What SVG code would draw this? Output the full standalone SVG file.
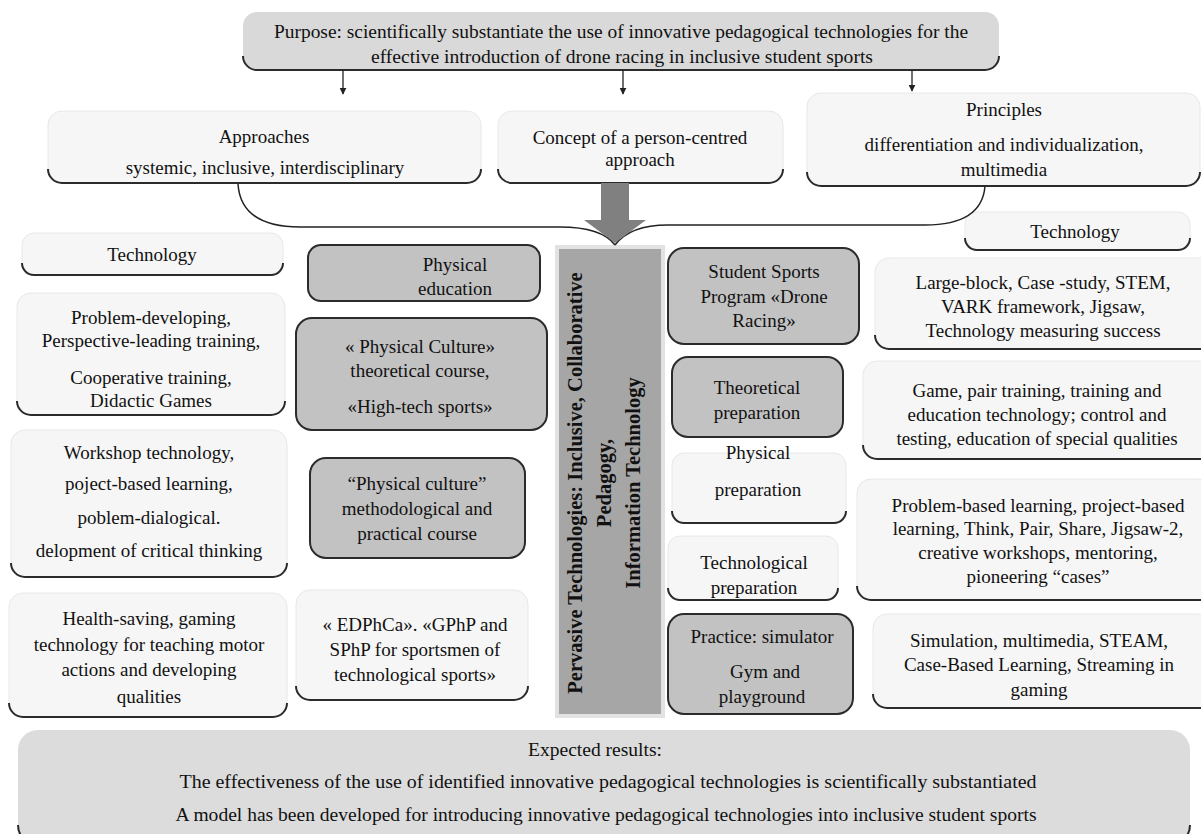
<svg xmlns="http://www.w3.org/2000/svg" width="1201" height="834" viewBox="0 0 1201 834">
<defs>
<style>
.t{font-family:"Liberation Serif","Times New Roman",serif;font-size:19px;fill:#111;text-anchor:middle}
.b{font-weight:bold;font-size:20.5px}
.lt{fill:#f6f6f6;stroke:#e8e8e8;stroke-width:1}
.gr{fill:#c2c2c2;stroke:#2b2b2b;stroke-width:2}
.sh{fill:none;stroke:#2b2b2b;stroke-width:2}
.ln{fill:none;stroke:#222;stroke-width:1.3}
.br{fill:none;stroke:#222;stroke-width:1.5}
</style>
<marker id="ah" viewBox="0 0 10 10" refX="9" refY="5" markerWidth="7" markerHeight="7" orient="auto" markerUnits="userSpaceOnUse">
<path d="M0,0 L10,5 L0,10 z" fill="#222"/>
</marker>
</defs>
<rect width="1201" height="834" fill="#ffffff"/>

<g id="purpose">
<rect x="243" y="12" width="756" height="58" rx="14" fill="#d9d9d9"/>
<path class="sh" d="M243,56 A14,14 0 0 0 257,70 L985,70 A14,14 0 0 0 999,56"/>
<text class="t" x="621" y="38" textLength="694" lengthAdjust="spacingAndGlyphs">Purpose: scientifically substantiate the use of innovative pedagogical technologies for the</text>
<text class="t" x="622" y="63" textLength="502" lengthAdjust="spacingAndGlyphs">effective introduction of drone racing in inclusive student sports</text>
</g>

<g id="approaches">
<rect class="lt" x="48" y="111" width="433" height="72" rx="14"/>
<path class="sh" d="M48,169 A14,14 0 0 0 62,183 L467,183 A14,14 0 0 0 481,169"/>
<text class="t" x="264" y="143">Approaches</text>
<text class="t" x="265" y="174">systemic, inclusive, interdisciplinary</text>
</g>

<g id="concept">
<rect class="lt" x="498" y="111" width="285" height="72" rx="14"/>
<path class="sh" d="M498,169 A14,14 0 0 0 512,183 L769,183 A14,14 0 0 0 783,169"/>
<text class="t" x="640" y="144">Concept of a person-centred</text>
<text class="t" x="640" y="166">approach</text>
</g>

<g id="principles">
<rect class="lt" x="807" y="93" width="393" height="93" rx="14"/>
<path class="sh" d="M807,172 A14,14 0 0 0 821,186 L1186,186 A14,14 0 0 0 1200,172"/>
<text class="t" x="1004" y="116">Principles</text>
<text class="t" x="1004" y="151">differentiation and individualization,</text>
<text class="t" x="1004" y="176">multimedia</text>
</g>

<g id="tech-left">
<rect class="lt" x="22" y="233" width="261" height="42" rx="12"/>
<path class="sh" d="M22,263 A12,12 0 0 0 34,275 L271,275 A12,12 0 0 0 283,263"/>
<text class="t" x="152" y="261">Technology</text>
</g>

<g id="problem-developing">
<rect class="lt" x="17" y="293" width="268" height="122" rx="14"/>
<path class="sh" d="M17,401 A14,14 0 0 0 31,415 L271,415 A14,14 0 0 0 285,401"/>
<text class="t" x="151" y="324">Problem-developing,</text>
<text class="t" x="151" y="347">Perspective-leading training,</text>
<text class="t" x="151" y="384">Cooperative training,</text>
<text class="t" x="151" y="407">Didactic Games</text>
</g>

<g id="workshop">
<rect class="lt" x="11" y="430" width="276" height="147" rx="14"/>
<path class="sh" d="M11,563 A14,14 0 0 0 25,577 L273,577 A14,14 0 0 0 287,563"/>
<text class="t" x="149" y="459">Workshop technology,</text>
<text class="t" x="149" y="490">poject-based learning,</text>
<text class="t" x="149" y="524">poblem-dialogical.</text>
<text class="t" x="149" y="557">delopment of critical thinking</text>
</g>

<g id="health">
<rect class="lt" x="9" y="593" width="278" height="124" rx="14"/>
<path class="sh" d="M9,703 A14,14 0 0 0 23,717 L273,717 A14,14 0 0 0 287,703"/>
<text class="t" x="149" y="625">Health-saving, gaming</text>
<text class="t" x="149" y="651">technology for teaching motor</text>
<text class="t" x="149" y="676">actions and developing</text>
<text class="t" x="149" y="703">qualities</text>
</g>

<g id="physical-education">
<rect class="gr" x="308" y="245" width="232" height="56" rx="13"/>
<text class="t" x="455" y="271">Physical</text>
<text class="t" x="455" y="295">education</text>
</g>

<g id="physical-culture">
<rect class="gr" x="296" y="318" width="251" height="112" rx="16"/>
<text class="t" x="420" y="353">« Physical Culture»</text>
<text class="t" x="420" y="377">theoretical course,</text>
<text class="t" x="420" y="413">«High-tech sports»</text>
</g>

<g id="methodological">
<rect class="gr" x="310" y="458" width="215" height="100" rx="16"/>
<text class="t" x="417" y="490">“Physical culture”</text>
<text class="t" x="417" y="515">methodological and</text>
<text class="t" x="417" y="540">practical course</text>
</g>

<g id="edphca">
<rect class="lt" x="296" y="590" width="232" height="110" rx="14"/>
<path class="sh" d="M296,686 A14,14 0 0 0 310,700 L514,700 A14,14 0 0 0 528,686"/>
<text class="t" x="415" y="631">« EDPhCa». «GPhP and</text>
<text class="t" x="415" y="656">SPhP for sportsmen of</text>
<text class="t" x="415" y="681">technological sports»</text>
</g>

<g id="pervasive">
<rect x="555" y="245" width="110" height="473" fill="#e2e2e2"/>
<rect x="559" y="249" width="102" height="465" fill="#a6a6a6"/>
<g transform="translate(612,483) rotate(-90)">
<text class="t b" x="0" y="-30">Pervasive Technologies: Inclusive, Collaborative</text>
<text class="t b" x="0" y="-1">Pedagogy,</text>
<text class="t b" x="0" y="28">Information Technology</text>
</g>
</g>

<g id="student-sports">
<rect class="gr" x="668" y="248" width="191" height="96" rx="16"/>
<text class="t" x="764" y="278">Student Sports</text>
<text class="t" x="764" y="303">Program «Drone</text>
<text class="t" x="764" y="327">Racing»</text>
</g>

<g id="theoretical">
<rect class="gr" x="672" y="357" width="171" height="80" rx="16"/>
<text class="t" x="757" y="394">Theoretical</text>
<text class="t" x="757" y="419">preparation</text>
</g>

<g id="physical-prep">
<rect class="lt" x="672" y="453" width="174" height="70" rx="12"/>
<path class="sh" d="M672,511 A12,12 0 0 0 684,523 L834,523 A12,12 0 0 0 846,511"/>
<text class="t" x="758" y="459">Physical</text>
<text class="t" x="758" y="496">preparation</text>
</g>

<g id="technological">
<rect class="lt" x="668" y="536" width="170" height="64" rx="12"/>
<path class="sh" d="M668,588 A12,12 0 0 0 680,600 L826,600 A12,12 0 0 0 838,588"/>
<text class="t" x="754" y="569">Technological</text>
<text class="t" x="754" y="594">preparation</text>
</g>

<g id="practice">
<rect class="gr" x="668" y="614" width="185" height="100" rx="16"/>
<text class="t" x="762" y="643">Practice: simulator</text>
<text class="t" x="765" y="678">Gym and</text>
<text class="t" x="762" y="703">playground</text>
</g>

<g id="tech-right">
<rect class="lt" x="965" y="212" width="225" height="38" rx="12"/>
<path class="sh" d="M965,238 A12,12 0 0 0 977,250 L1178,250 A12,12 0 0 0 1190,238"/>
<text class="t" x="1075" y="238">Technology</text>
</g>

<g id="large-block">
<rect class="lt" x="875" y="258" width="340" height="91" rx="14"/>
<path class="sh" d="M875,335 A14,14 0 0 0 889,349 L1201,349"/>
<text class="t" x="1043" y="289">Large-block, Case -study, STEM,</text>
<text class="t" x="1043" y="313">VARK framework, Jigsaw,</text>
<text class="t" x="1043" y="337">Technology measuring success</text>
</g>

<g id="game">
<rect class="lt" x="863" y="361" width="350" height="98" rx="14"/>
<path class="sh" d="M863,445 A14,14 0 0 0 877,459 L1201,459"/>
<text class="t" x="1037" y="397">Game, pair training, training and</text>
<text class="t" x="1037" y="421">education technology; control and</text>
<text class="t" x="1037" y="445">testing, education of special qualities</text>
</g>

<g id="problem-based">
<rect class="lt" x="857" y="479" width="355" height="121" rx="14"/>
<path class="sh" d="M857,586 A14,14 0 0 0 871,600 L1201,600"/>
<text class="t" x="1038" y="512">Problem-based learning, project-based</text>
<text class="t" x="1038" y="535">learning, Think, Pair, Share, Jigsaw-2,</text>
<text class="t" x="1038" y="559">creative workshops, mentoring,</text>
<text class="t" x="1038" y="583">pioneering “cases”</text>
</g>

<g id="simulation">
<rect class="lt" x="873" y="614" width="340" height="94" rx="14"/>
<path class="sh" d="M873,694 A14,14 0 0 0 887,708 L1201,708"/>
<text class="t" x="1039" y="647">Simulation, multimedia, STEAM,</text>
<text class="t" x="1039" y="671">Case-Based Learning, Streaming in</text>
<text class="t" x="1039" y="696">gaming</text>
</g>

<g id="expected">
<rect x="18" y="730" width="1172" height="115" rx="20" fill="#dcdcdc"/>
<path class="sh" d="M18,825 A20,20 0 0 0 38,845 L1170,845 A20,20 0 0 0 1190,825"/>
<text class="t" x="595" y="756" textLength="134" lengthAdjust="spacingAndGlyphs">Expected results:</text>
<text class="t" x="608" y="788" textLength="857" lengthAdjust="spacingAndGlyphs">The effectiveness of the use of identified innovative pedagogical technologies is scientifically substantiated</text>
<text class="t" x="606" y="821" textLength="861" lengthAdjust="spacingAndGlyphs">A model has been developed for introducing innovative pedagogical technologies into inclusive student sports</text>
</g>

<g id="connectors">
<line class="ln" x1="343" y1="70" x2="343" y2="94" marker-end="url(#ah)"/>
<line class="ln" x1="623" y1="70" x2="623" y2="94" marker-end="url(#ah)"/>
<line class="ln" x1="912" y1="70" x2="912" y2="91" marker-end="url(#ah)"/>
<path class="br" d="M238,184 C240,214 262,227 300,227 L560,227 C588,227 606,233 615,245"/>
<path class="br" d="M985,186 C983,212 962,225 925,225 L668,225 C642,225 624,233 615,245"/>
<path d="M601,183 L629,183 L629,220 L646,220 L615,243 L584,220 L601,220 Z" fill="#808080"/>
</g>
</svg>
